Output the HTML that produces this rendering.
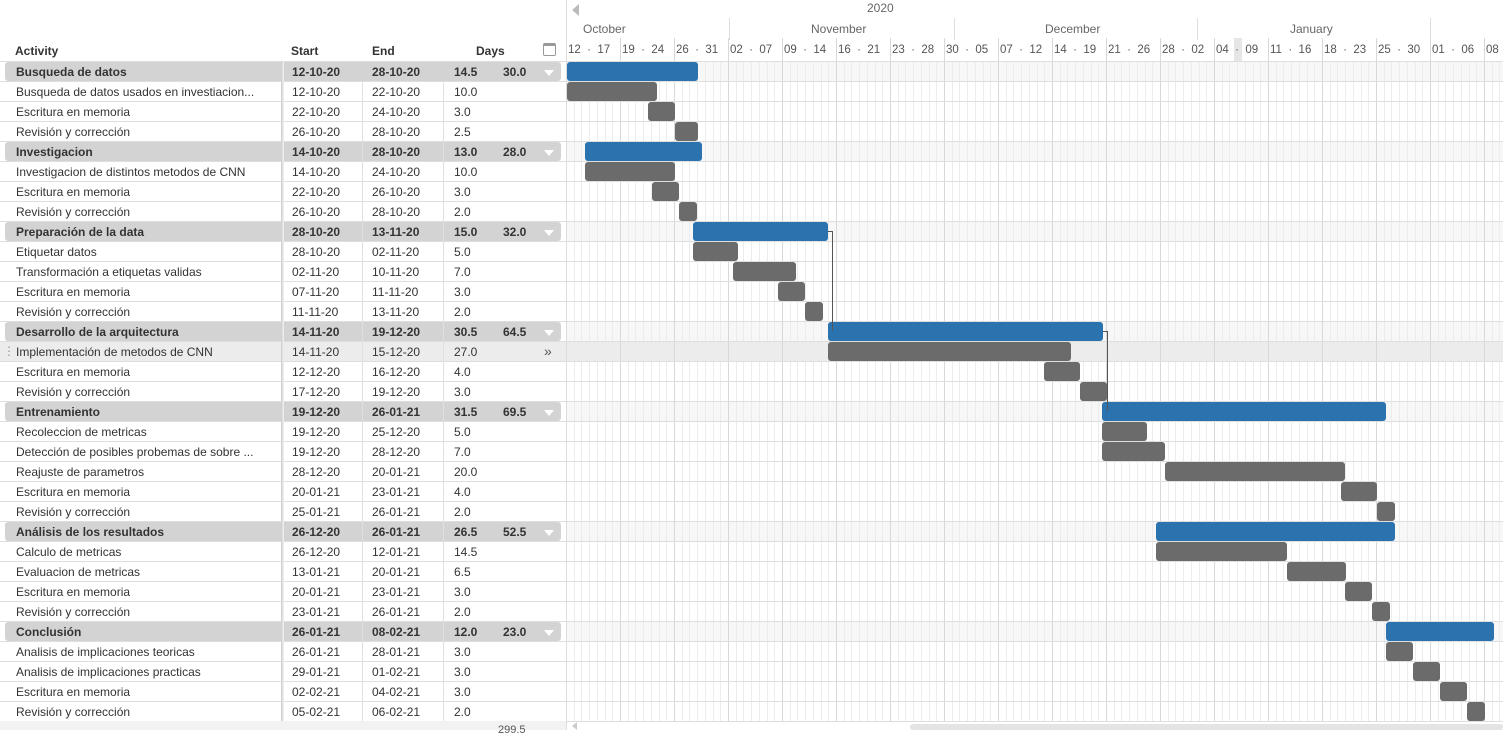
<!DOCTYPE html>
<html><head><meta charset="utf-8"><style>
body{margin:0;width:1503px;height:730px;overflow:hidden;background:#fff;font-family:"Liberation Sans",sans-serif;font-size:12px;color:#333;position:relative}
div{position:absolute;box-sizing:border-box}
.t{white-space:nowrap;line-height:20px}
</style></head><body>
<div id="root" style="left:0;top:0;width:1503px;height:730px"></div>
<script>
const R=document.getElementById('root');
function d(s){const e=document.createElement('div');e.setAttribute('style',s);R.appendChild(e);return e}
function tx(x,y,t,s){const e=d('left:'+x+'px;top:'+y+'px;'+(s||''));e.className='t';e.textContent=t;return e}
const rows=[
["Busqueda de datos","12-10-20","28-10-20","14.5","30.0",1,567,698],
["Busqueda de datos usados en investiacion...","12-10-20","22-10-20","10.0","",0,567,657],
["Escritura en memoria","22-10-20","24-10-20","3.0","",0,648,675],
["Revisión y corrección","26-10-20","28-10-20","2.5","",0,675,698],
["Investigacion","14-10-20","28-10-20","13.0","28.0",1,585,702],
["Investigacion de distintos metodos de CNN","14-10-20","24-10-20","10.0","",0,585,675],
["Escritura en memoria","22-10-20","26-10-20","3.0","",0,652,679],
["Revisión y corrección","26-10-20","28-10-20","2.0","",0,679,697],
["Preparación de la data","28-10-20","13-11-20","15.0","32.0",1,693,828],
["Etiquetar datos","28-10-20","02-11-20","5.0","",0,693,738],
["Transformación a etiquetas validas","02-11-20","10-11-20","7.0","",0,733,796],
["Escritura en memoria","07-11-20","11-11-20","3.0","",0,778,805],
["Revisión y corrección","11-11-20","13-11-20","2.0","",0,805,823],
["Desarrollo de la arquitectura","14-11-20","19-12-20","30.5","64.5",1,828,1103],
["Implementación de metodos de CNN","14-11-20","15-12-20","27.0","",0,828,1071],
["Escritura en memoria","12-12-20","16-12-20","4.0","",0,1044,1080],
["Revisión y corrección","17-12-20","19-12-20","3.0","",0,1080,1107],
["Entrenamiento","19-12-20","26-01-21","31.5","69.5",1,1102,1386],
["Recoleccion de metricas","19-12-20","25-12-20","5.0","",0,1102,1147],
["Detección de posibles probemas de sobre ...","19-12-20","28-12-20","7.0","",0,1102,1165],
["Reajuste de parametros","28-12-20","20-01-21","20.0","",0,1165,1345],
["Escritura en memoria","20-01-21","23-01-21","4.0","",0,1341,1377],
["Revisión y corrección","25-01-21","26-01-21","2.0","",0,1377,1395],
["Análisis de los resultados","26-12-20","26-01-21","26.5","52.5",1,1156,1395],
["Calculo de metricas","26-12-20","12-01-21","14.5","",0,1156,1287],
["Evaluacion de metricas","13-01-21","20-01-21","6.5","",0,1287,1346],
["Escritura en memoria","20-01-21","23-01-21","3.0","",0,1345,1372],
["Revisión y corrección","23-01-21","26-01-21","2.0","",0,1372,1390],
["Conclusión","26-01-21","08-02-21","12.0","23.0",1,1386,1494],
["Analisis de implicaciones teoricas","26-01-21","28-01-21","3.0","",0,1386,1413],
["Analisis de implicaciones practicas","29-01-21","01-02-21","3.0","",0,1413,1440],
["Escritura en memoria","02-02-21","04-02-21","3.0","",0,1440,1467],
["Revisión y corrección","05-02-21","06-02-21","2.0","",0,1467,1485]];
rows.forEach((r,i)=>{const y=61+20*i;
 if(r[5])d('left:566px;top:'+y+'px;width:937px;height:20px;background:#f7f7f7');
 if(i==14)d('left:0;top:'+y+'px;width:1503px;height:20px;background:#ececec');
});
d('left:1234px;top:38px;width:8px;height:23px;background:#e6e6e6');
for(let k=0;k<=122;k++){const x=Math.round(566+k*7.714);if(x>1503)break;
 const wk=k%7==0;d('left:'+x+'px;top:'+(wk?38:61)+'px;width:1px;height:'+(wk?683:660)+'px;background:'+(wk?'#d8d8d8':'#ececec'));}
for(let i=0;i<=33;i++){const y=61+20*i;d('left:0;top:'+y+'px;width:1503px;height:1px;background:#dedede');}
tx(867,-2,'2020','color:#666;font-size:12px');
d('left:572px;top:4px;width:0;height:0;border-top:6px solid transparent;border-bottom:6px solid transparent;border-right:7px solid #bbb');
[[583,'October'],[811,'November'],[1045,'December'],[1290,'January']].forEach(m=>tx(m[0],19,m[1],'color:#666'));
[729,954,1197,1430].forEach(x=>d('left:'+x+'px;top:18px;width:1px;height:22px;background:#ddd'));
d('left:566px;top:0;width:1px;height:730px;background:#ddd');
const wl=["12 - 17","19 - 24","26 - 31","02 - 07","09 - 14","16 - 21","23 - 28","30 - 05","07 - 12","14 - 19","21 - 26","28 - 02","04 - 09","11 - 16","18 - 23","25 - 30","01 - 06","08"];
wl.forEach((w,k)=>tx(568+54*k,40,w.replace(' - ','\u00a0\u00a0·\u00a0\u00a0'),'color:#555;font-size:11.5px;width:52px;'+(w.length>2?'display:flex;justify-content:space-between':'')));
tx(15,41,'Activity','font-weight:bold');tx(291,41,'Start','font-weight:bold');tx(372,41,'End','font-weight:bold');tx(476,41,'Days','font-weight:bold');
d('left:543px;top:43px;width:13px;height:13px;border:1px solid #999;border-radius:2px;border-top-width:3px');
rows.forEach((r,i)=>{const y=61+20*i;const b=r[5]?'font-weight:bold;':'';
 if(r[5])d('left:5px;top:'+(y+1)+'px;width:556px;height:19px;background:#d3d3d3;border-radius:3px');
 if(i==14){tx(3,y,'⋮','color:#999');tx(544,y,'»','font-size:14px;color:#555');}
 tx(16,y+1,r[0],b);tx(292,y+1,r[1],b);tx(372,y+1,r[2],b);tx(454,y+1,r[3],b);
 if(r[4])tx(503,y+1,r[4],b);
 if(r[5])d('left:544px;top:'+(y+9)+'px;width:0;height:0;border-left:5px solid transparent;border-right:5px solid transparent;border-top:6px solid #fff');
 d('left:'+r[6]+'px;top:'+(y+1)+'px;width:'+(r[7]-r[6])+'px;height:19px;border-radius:3px;background:'+(r[5]?'#2a73ae':'#6b6b6b'));
});
d('left:362px;top:81px;width:1px;height:640px;background:#e0e0e0');
d('left:443px;top:81px;width:1px;height:640px;background:#e0e0e0');
d('left:281px;top:61px;width:3px;height:660px;background:linear-gradient(90deg,#ccc,#f3f3f3)');
d('left:828px;top:231px;width:5px;height:100px;border-top:1px solid #555;border-right:1px solid #555');
d('left:1103px;top:331px;width:5px;height:80px;border-top:1px solid #555;border-right:1px solid #555');
d('left:0;top:721px;width:566px;height:9px;background:#f2f2f2');
tx(498,720,'299.5','font-size:11px;color:#555');
d('left:910px;top:724px;width:593px;height:6px;background:#e4e4e4;border-radius:3px');
d('left:572px;top:722px;width:0;height:0;border-top:4px solid transparent;border-bottom:4px solid transparent;border-right:5px solid #ccc');
</script>
</body></html>
